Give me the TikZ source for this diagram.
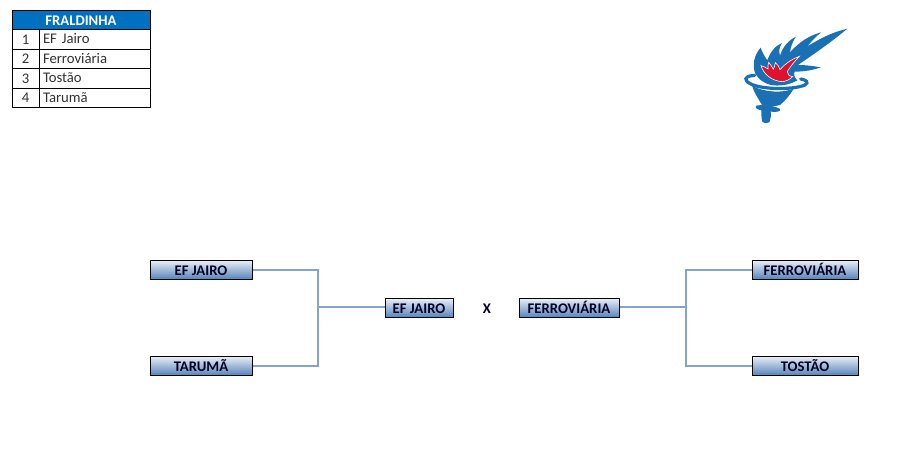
\documentclass[tikz,border=0pt]{standalone}
\usepackage{fontspec}
\setmainfont{Carlito}
\definecolor{linkblue}{HTML}{86A3CB}
\definecolor{boxtop}{HTML}{E8EEF7}
\definecolor{boxbottom}{HTML}{5482BA}
\definecolor{headblue}{HTML}{0070C0}
\definecolor{torchblue}{HTML}{1B6FB3}
\definecolor{flamered}{HTML}{E0102F}
\tikzset{
    teambox/.style={draw=black,line width=1pt,top color=boxtop,bottom color=boxbottom,
        inner sep=0pt,minimum height=19pt,text height=11pt,text depth=0pt,
        font=\fontsize{14.7}{16}\selectfont\bfseries,text=black!85!blue},
    link/.style={draw=linkblue,line width=1.3pt},
    headcell/.style={draw=black,fill=headblue,text=white,inner sep=0pt,line width=.9pt,
        minimum width=138pt,minimum height=19.5pt,text height=11pt,text depth=0pt,
        font=\fontsize{14.7}{16}\selectfont\bfseries},
    numcell/.style={draw=black,inner sep=0pt,line width=.9pt,minimum width=27pt,minimum height=19.5pt,
        text height=10pt,text depth=0pt,text=black!80,font=\fontsize{14.7}{16}\selectfont},
    namecell/.style={draw=black,inner sep=0pt,inner xsep=4pt,line width=.9pt,minimum width=111pt,minimum height=19.5pt,
        text height=12pt,text depth=3pt,align=left,text=black!80,font=\fontsize{14.7}{16}\selectfont}
}
\begin{document}
\begin{tikzpicture}[x=1pt,y=-1pt]
    \useasboundingbox (0,0) rectangle (922,468);
    % table
    \node[headcell] (head) at (81,20) {FRALDINHA};
    \foreach \row/\team in {1/EF Jairo,2/Ferroviária,3/Tostão,4/Tarumã}{
        \node[numcell] (num\row) at (25.5,{20+19.5*\row}) {\row};
        \node[namecell,text width=103pt] (name\row) at (94.5,{20+19.5*\row}) {\team};
    }
    % bracket
    \node[teambox,minimum width=102pt] (efleft) at (201,270) {EF JAIRO};
    \node[teambox,minimum width=102pt] (taruma) at (201,366) {TARUMÃ};
    \node[teambox,minimum width=68pt] (efmid) at (419,308) {EF JAIRO};
    \node[font=\fontsize{14.7}{16}\selectfont\bfseries,text=black!85!blue,text height=11pt,text depth=0pt,inner sep=0pt] (versus) at (487,308) {X};
    \node[teambox,minimum width=100pt] (ferromid) at (569,308) {FERROVIÁRIA};
    \node[teambox,minimum width=106pt] (ferroright) at (805,270) {FERROVIÁRIA};
    \node[teambox,minimum width=106pt] (tostao) at (805,366) {TOSTÃO};
    \coordinate (leftjoin) at (318,307);
    \coordinate (rightjoin) at (686,307);
    \draw[link] (efleft.east) -| (leftjoin) |- (taruma.east);
    \draw[link] (leftjoin) -- (leftjoin -| efmid.west);
    \draw[link] (ferroright.west) -| (rightjoin) |- (tostao.west);
    \draw[link] (rightjoin) -- (rightjoin -| ferromid.east);
    % torch
    \begin{scope}[shift={(730,15)},x=.3333pt,y=-.3333pt]
        \fill[torchblue] (352,41) .. controls (310,52) and (285,62) .. (232,94)
            .. controls (245,78) and (260,62) .. (274,52)
            .. controls (235,62) and (205,84) .. (180,112)
            .. controls (182,95) and (188,80) .. (197,66)
            .. controls (175,76) and (158,96) .. (150,122)
            .. controls (146,108) and (148,96) .. (156,84)
            .. controls (136,92) and (120,112) .. (112,136)
            .. controls (104,124) and (96,112) .. (92,98)
            .. controls (72,120) and (66,152) .. (76,176)
            .. controls (84,192) and (105,208) .. (130,211)
            .. controls (160,214) and (185,206) .. (202,196)
            .. controls (194,188) and (190,178) .. (194,170)
            .. controls (220,170) and (248,166) .. (272,157)
            .. controls (245,152) and (222,150) .. (204,150)
            .. controls (240,125) and (300,85) .. (352,41) -- cycle;
        \fill[flamered,draw=white,line width=.6pt] (208,124) .. controls (185,133) and (165,146) .. (150,164)
            .. controls (148,156) and (142,148) .. (136,143)
            .. controls (135,152) and (132,158) .. (130,163)
            .. controls (126,156) and (122,148) .. (116,142)
            .. controls (114,150) and (113,156) .. (114,162)
            .. controls (108,158) and (100,154) .. (93,152)
            .. controls (100,176) and (125,199) .. (158,200)
            .. controls (168,199) and (180,193) .. (188,185)
            .. controls (178,184) and (172,178) .. (172,170)
            .. controls (180,155) and (195,138) .. (208,124) -- cycle;
        % bowl and ring
        \fill[torchblue] (66,212) .. controls (100,232) and (160,236) .. (192,220)
            .. controls (180,240) and (165,258) .. (150,270)
            .. controls (130,276) and (110,276) .. (96,270)
            .. controls (84,250) and (72,232) .. (66,212) -- cycle;
        \draw[torchblue,line width=3.2pt,line cap=round] (74,181)
            .. controls (55,182) and (42,188) .. (50,198)
            .. controls (70,224) and (185,227) .. (225,210)
            .. controls (238,202) and (228,194) .. (212,192);
        \fill[torchblue] (78,272) .. controls (100,268) and (135,272) .. (150,282)
            .. controls (154,290) and (140,292) .. (122,290)
            .. controls (124,300) and (122,312) .. (118,322)
            .. controls (110,326) and (100,326) .. (97,320)
            .. controls (94,310) and (94,296) .. (94,286)
            .. controls (84,284) and (74,280) .. (78,272) -- cycle;
    \end{scope}
\end{tikzpicture}
\end{document}
